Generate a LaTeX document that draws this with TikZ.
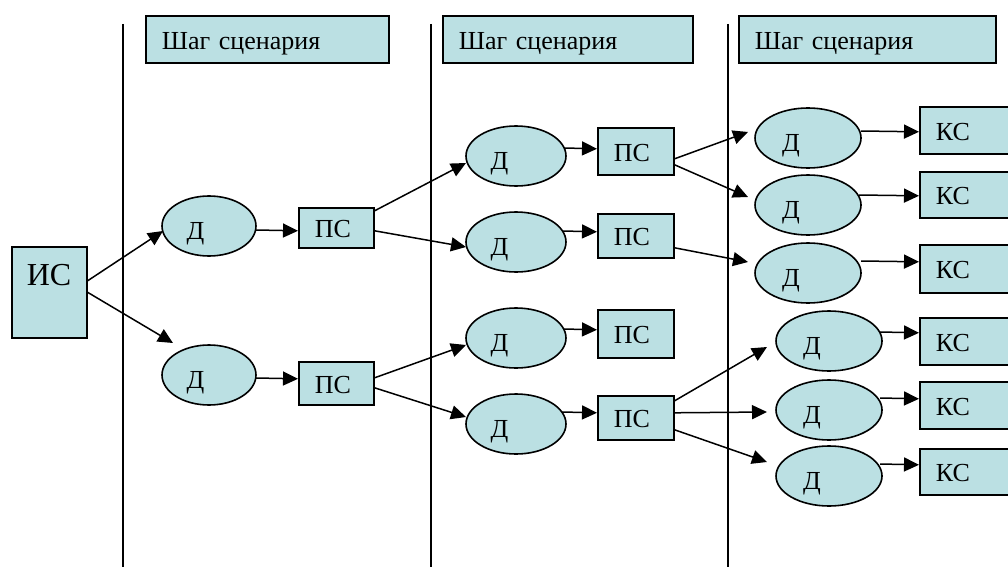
\documentclass[tikz,border=0pt]{standalone}
\usepackage{fontspec}
\setmainfont{Liberation Serif}
\usetikzlibrary{arrows.meta,calc,shapes.geometric}
\definecolor{boxfill}{RGB}{187,224,227}
\begin{document}
\begin{tikzpicture}[x=1pt,y=-1pt,
  base/.style={draw=black, line width=1.6pt, fill=boxfill, font=\fontsize{26}{30}\selectfont},
  rbox/.style={base, rectangle, anchor=north west, inner xsep=16pt, inner ysep=0pt, align=left, text height=20pt, text depth=0pt},
  dell/.style={base, ellipse, inner sep=0pt, minimum height=60pt, text height=27pt, text depth=0pt},
  conn/.style={line width=1.5pt, -{Triangle[length=15pt,width=14pt]}},
  sepline/.style={line width=1.5pt}
]
\useasboundingbox (0,0) rectangle (1008,567);
% separators
\draw[sepline] (123,24) -- (123,567);
\draw[sepline] (431,24) -- (431,567);
\draw[sepline] (728,24) -- (728,567);
% headers
\node[rbox, text width=211pt, minimum height=47pt] (h1) at (145,15) {Шаг сценария};
\node[rbox, text width=218pt, minimum height=47pt] (h2) at (442,15) {Шаг сценария};
\node[rbox, text width=225pt, minimum height=47pt] (h3) at (738,15) {Шаг сценария};
% initial state
\node[rbox, inner xsep=15pt, text width=45pt, minimum height=91pt, text height=0pt, text depth=13pt, font=\fontsize{32}{36}\selectfont] (IS) at (11,246) {ИС};
% column 1
\node[dell, minimum width=94pt] (d11) at (209,226) {Д\kern27pt\relax};
\node[dell, minimum width=94pt] (d12) at (209,375) {Д\kern27pt\relax};
\node[rbox, text width=43pt, minimum height=40pt] (p11) at (298,207) {ПС};
\node[rbox, text width=43pt, minimum height=43pt] (p12) at (298,361) {ПС};
% column 2
\node[dell, minimum width=100pt] (d21) at (516,156) {Д\kern33pt\relax};
\node[dell, minimum width=100pt] (d22) at (516,242) {Д\kern33pt\relax};
\node[dell, minimum width=100pt] (d23) at (516,338) {Д\kern33pt\relax};
\node[dell, minimum width=100pt] (d24) at (516,424) {Д\kern33pt\relax};
\node[rbox, text width=44pt, minimum height=47pt] (p21) at (597,127) {ПС};
\node[rbox, text width=44pt, minimum height=44pt] (p22) at (597,213) {ПС};
\node[rbox, text width=44pt, minimum height=48pt] (p23) at (597,309) {ПС};
\node[rbox, text width=44pt, minimum height=44pt] (p24) at (597,395) {ПС};
% column 3
\node[dell, minimum width=106pt] (d31) at (808,138) {Д\kern34pt\relax};
\node[dell, minimum width=106pt] (d32) at (808,205) {Д\kern34pt\relax};
\node[dell, minimum width=106pt] (d33) at (808,273) {Д\kern34pt\relax};
\node[dell, minimum width=106pt] (d34) at (829,341) {Д\kern34pt\relax};
\node[dell, minimum width=106pt] (d35) at (829,410) {Д\kern34pt\relax};
\node[dell, minimum width=106pt] (d36) at (829,476) {Д\kern34pt\relax};
\node[rbox, text width=61pt, minimum height=47pt] (k1) at (919,106) {КС};
\node[rbox, text width=61pt, minimum height=46pt] (k2) at (919,171) {КС};
\node[rbox, text width=61pt, minimum height=48pt] (k3) at (919,244) {КС};
\node[rbox, text width=61pt, minimum height=47pt] (k4) at (919,317) {КС};
\node[rbox, text width=61pt, minimum height=47pt] (k5) at (919,381) {КС};
\node[rbox, text width=61pt, minimum height=46pt] (k6) at (919,448) {КС};
% connectors
\draw[conn] ($(IS.east)+(0,-11.5)$) -- ($(d11.center)+(-46,5)$);
\draw[conn] (IS.east) -- ($(d12.center)+(-36,-32)$);
\draw[conn] ($(d11.center)+(47,4)$) -- ($(p11.west)+(0,3)$);
\draw[conn] ($(d12.center)+(47,3)$) -- ($(p12.west)+(0,-4.5)$);
\draw[conn] ($(p11.east)+(0,-17)$) -- ($(d21.center)+(-50,7)$);
\draw[conn] ($(p11.east)+(0,3)$) -- ($(d22.center)+(-50,5)$);
\draw[conn] ($(p12.east)+(0,-5.5)$) -- ($(d23.center)+(-50,7)$);
\draw[conn] ($(p12.east)+(0,4.5)$) -- ($(d24.center)+(-50,-7)$);
\draw[conn] ($(d21.center)+(48,-8)$) -- ($(p21.west)+(0,-2.5)$);
\draw[conn] ($(d22.center)+(46.5,-11)$) -- ($(p22.west)+(0,-4)$);
\draw[conn] ($(d23.center)+(47.7,-9)$) -- ($(p23.west)+(0,-4)$);
\draw[conn] ($(d24.center)+(45.8,-12)$) -- ($(p24.west)+(0,-5)$);
\draw[conn] ($(p21.east)+(0,7.5)$) -- ($(d31.center)+(-60,-6)$);
\draw[conn] ($(p21.east)+(0,13.5)$) -- ($(d32.center)+(-60,-8)$);
\draw[conn] ($(p22.east)+(0,12)$) -- ($(d33.center)+(-60,-11)$);
\draw[conn] ($(p24.east)+(0,-17)$) -- ($(d34.center)+(-62,6)$);
\draw[conn] ($(p24.east)+(0,-5)$) -- ($(d35.center)+(-62,2)$);
\draw[conn] ($(p24.east)+(0,12)$) -- ($(d36.center)+(-62,-14)$);
\draw[conn] ($(d31.center)+(53,-7)$) -- ($(k1.west)+(0,1.5)$);
\draw[conn] ($(d32.center)+(51,-10)$) -- ($(k2.west)+(0,1)$);
\draw[conn] ($(d33.center)+(53,-12)$) -- ($(k3.west)+(0,-7)$);
\draw[conn] ($(d34.center)+(51,-9)$) -- ($(k4.west)+(0,-8.5)$);
\draw[conn] ($(d35.center)+(51,-12)$) -- ($(k5.west)+(0,-6.5)$);
\draw[conn] ($(d36.center)+(51,-12)$) -- ($(k6.west)+(0,-7)$);
\end{tikzpicture}
\end{document}
